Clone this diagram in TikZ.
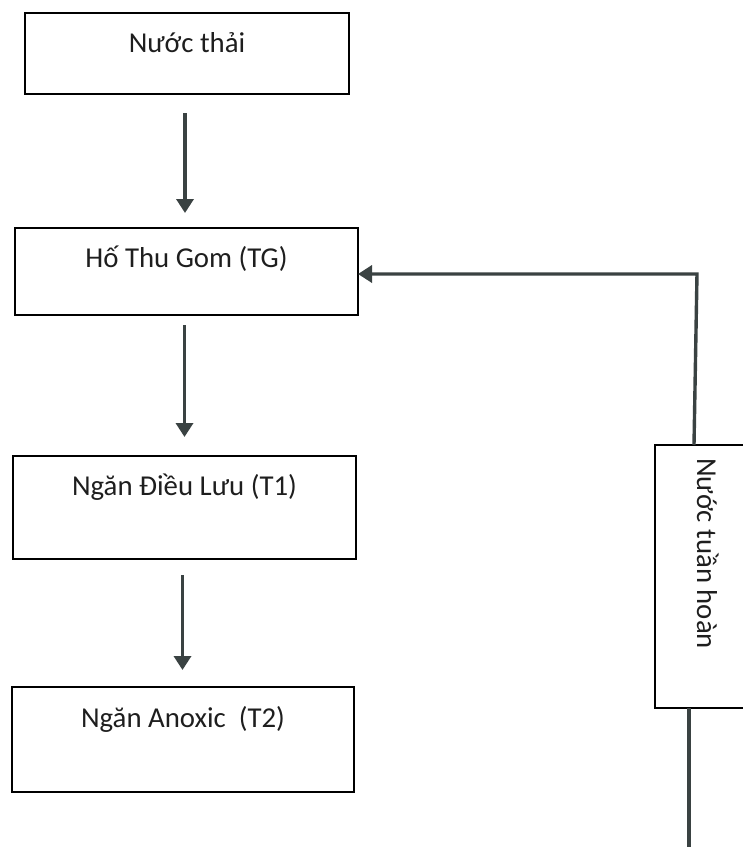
\documentclass[tikz,border=0pt]{standalone}
\usepackage{fontspec}
\setmainfont{Carlito}
\usetikzlibrary{arrows.meta}
\definecolor{arrcol}{HTML}{3A4242}
\definecolor{txtcol}{HTML}{1E1E1E}
\begin{document}
\begin{tikzpicture}[x=1pt,y=-1pt,
  boxst/.style={draw=black,line width=2pt,inner sep=0pt,outer sep=0pt,anchor=north west,
     font=\fontsize{28.8}{32}\selectfont,text=txtcol},
  arr/.style={draw=arrcol,line width=3.4pt,-{Triangle[length=14pt,width=17pt]}},
  plain/.style={draw=arrcol,line width=3.4pt}]
\useasboundingbox (0,0) rectangle (743,847);
\node[boxst,minimum width=324pt,text height=39pt,text depth=42pt] (b1) at (25,13) {Nước thải};
\node[boxst,minimum width=343pt,text height=39pt,text depth=48pt] (b2) at (15,228) {Hố Thu Gom (TG)};
\node[boxst,minimum width=343pt,text height=39pt,text depth=64pt] (b3) at (13,456) {Ngăn Điều Lưu (T1)};
\node[boxst,minimum width=342pt,text height=40pt,text depth=65pt] (b4) at (12,687) {Ngăn Anoxic~ (T2)};
\node[boxst,minimum width=150pt,minimum height=263pt] (r) at (655,445) {};
\node[font=\fontsize{28.8}{32}\selectfont,text=txtcol,rotate=-90,anchor=base west,inner sep=0pt] (rt) at (697,458) {Nước tuần hoàn};
\draw[arr,shorten <=19pt,shorten >=15pt] ([xshift=-2pt]b1.south) -- ([xshift=-2pt]b1.south |- b2.north);
\draw[arr,shorten <=10pt,shorten >=19pt] ([xshift=-2pt]b2.south) -- ([xshift=-2pt]b2.south |- b3.north);
\draw[arr,shorten <=16pt,shorten >=17pt] ([xshift=-2pt]b3.south) -- ([xshift=-2pt]b3.south |- b4.north);
\coordinate (c0) at (694,445);
\coordinate (c1) at (697,274);
\coordinate (c2) at (689,847);
\draw[arr] (c0) -- (c1) -- (b2.east |- c1);
\draw[plain] (r.south -| c2) -- (c2);
\end{tikzpicture}
\end{document}
